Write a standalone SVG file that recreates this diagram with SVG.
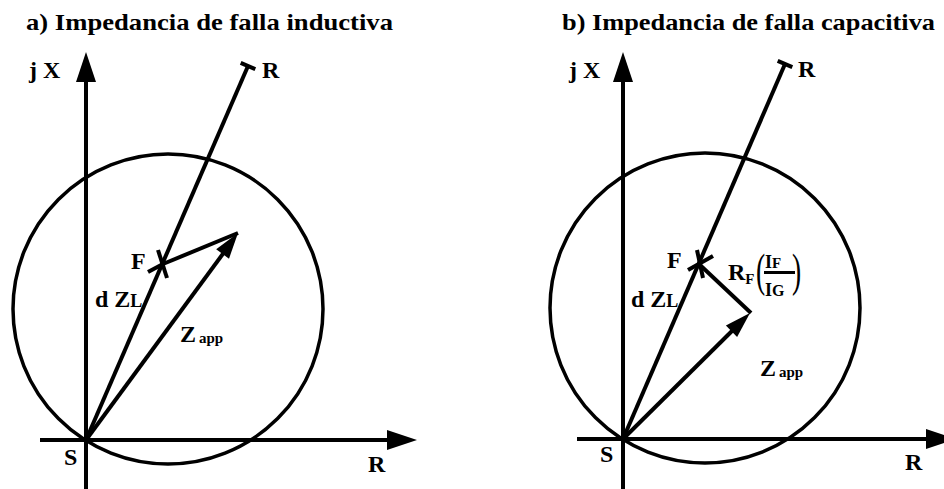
<svg xmlns="http://www.w3.org/2000/svg" width="944" height="489" viewBox="0 0 944 489">
<rect width="944" height="489" fill="#fff"/>

<g id="panel-a">
<text font-family="Times New Roman" font-weight="bold" font-size="24" x="26" y="30" textLength="367" lengthAdjust="spacingAndGlyphs">a) Impedancia de falla inductiva</text>
<g id="a-circle"><circle cx="168" cy="309" r="155" fill="none" stroke="#000" stroke-width="3.5"/></g>
<g id="a-labels">
<text font-family="Times New Roman" font-weight="bold" font-size="24" x="29" y="78">j X</text>
<text font-family="Times New Roman" font-weight="bold" font-size="24" x="262" y="78">R</text>
<text font-family="Times New Roman" font-weight="bold" font-size="24" x="131" y="269">F</text>
<text font-family="Times New Roman" font-weight="bold" font-size="24" x="95" y="307">d Z<tspan font-size="18">L</tspan></text>
<text font-family="Times New Roman" font-weight="bold" font-size="24" x="180" y="342">Z<tspan font-size="15" dx="3" dy="1">app</tspan></text>
<text font-family="Times New Roman" font-weight="bold" font-size="24" x="64" y="465">S</text>
<text font-family="Times New Roman" font-weight="bold" font-size="24" x="368" y="472">R</text>
</g>
</g>

<g id="panel-b">
<text font-family="Times New Roman" font-weight="bold" font-size="24" x="562" y="30" textLength="373" lengthAdjust="spacingAndGlyphs">b) Impedancia de falla capacitiva</text>
<g id="b-circle"><circle cx="705" cy="308" r="155" fill="none" stroke="#000" stroke-width="3.5"/></g>
<g id="b-labels">
<text font-family="Times New Roman" font-weight="bold" font-size="24" x="569" y="78">j X</text>
<text font-family="Times New Roman" font-weight="bold" font-size="24" x="798" y="77">R</text>
<text font-family="Times New Roman" font-weight="bold" font-size="24" x="667" y="268">F</text>
<text font-family="Times New Roman" font-weight="bold" font-size="24" x="631" y="307">d Z<tspan font-size="18">L</tspan></text>
<text font-family="Times New Roman" font-weight="bold" font-size="24" x="760" y="376">Z<tspan font-size="15" dx="3" dy="1">app</tspan></text>
<text font-family="Times New Roman" font-weight="bold" font-size="24" x="600" y="462">S</text>
<text font-family="Times New Roman" font-weight="bold" font-size="24" x="905" y="470">R</text>
</g>
<g id="b-rf-label">
<text font-family="Times New Roman" font-weight="bold" font-size="24" x="728" y="280">R<tspan font-size="15" dy="4">F</tspan></text>
<text font-family="Times New Roman" font-size="46" x="0" y="0" transform="translate(756,286) scale(0.6,1)">(</text>
<text font-family="Times New Roman" font-size="46" x="0" y="0" transform="translate(792,286) scale(0.6,1)">)</text>
<text font-family="Times New Roman" font-weight="bold" font-size="18" x="765" y="268">I<tspan font-size="15">F</tspan></text>
<line x1="764" y1="272.5" x2="795" y2="272.5" stroke="#000" stroke-width="3"/>
<text font-family="Times New Roman" font-weight="bold" font-size="18" x="765" y="296">I<tspan font-size="16">G</tspan></text>
</g>
</g>

<g id="connectors" stroke="#000" stroke-width="4" fill="none">
<line x1="40" y1="440" x2="392" y2="440"/>
<polygon points="417,440 387,430 387,450" fill="#000" stroke="none"/>
<line x1="86" y1="489" x2="86" y2="78"/>
<polygon points="86,52 76,82 96,82" fill="#000" stroke="none"/>
<line x1="86" y1="440" x2="248" y2="66"/>
<line x1="240.7" y1="62.8" x2="255.3" y2="69.2"/>
<line x1="148" y1="272" x2="163" y2="264"/>
<line x1="158" y1="250" x2="167" y2="278"/>
<line x1="163" y1="264" x2="238" y2="233"/>
<line x1="86" y1="440" x2="225" y2="251"/>
<polygon points="238,233 229,258.7 216.2,249.3" fill="#000" stroke="none"/>

<line x1="577" y1="439" x2="931" y2="439"/>
<polygon points="956,439 926,429 926,449" fill="#000" stroke="none"/>
<line x1="623" y1="489" x2="623" y2="78"/>
<polygon points="623,52 613,82 633,82" fill="#000" stroke="none"/>
<line x1="623" y1="439" x2="785" y2="64"/>
<line x1="777.7" y1="60.8" x2="792.3" y2="67.2"/>
<line x1="688" y1="270" x2="713" y2="256"/>
<line x1="697" y1="250" x2="703" y2="278"/>
<line x1="700" y1="265" x2="751" y2="313"/>
<line x1="623" y1="439" x2="734" y2="329"/>
<polygon points="750,313 737.1,337 725.9,325.6" fill="#000" stroke="none"/>
</g>
</svg>
